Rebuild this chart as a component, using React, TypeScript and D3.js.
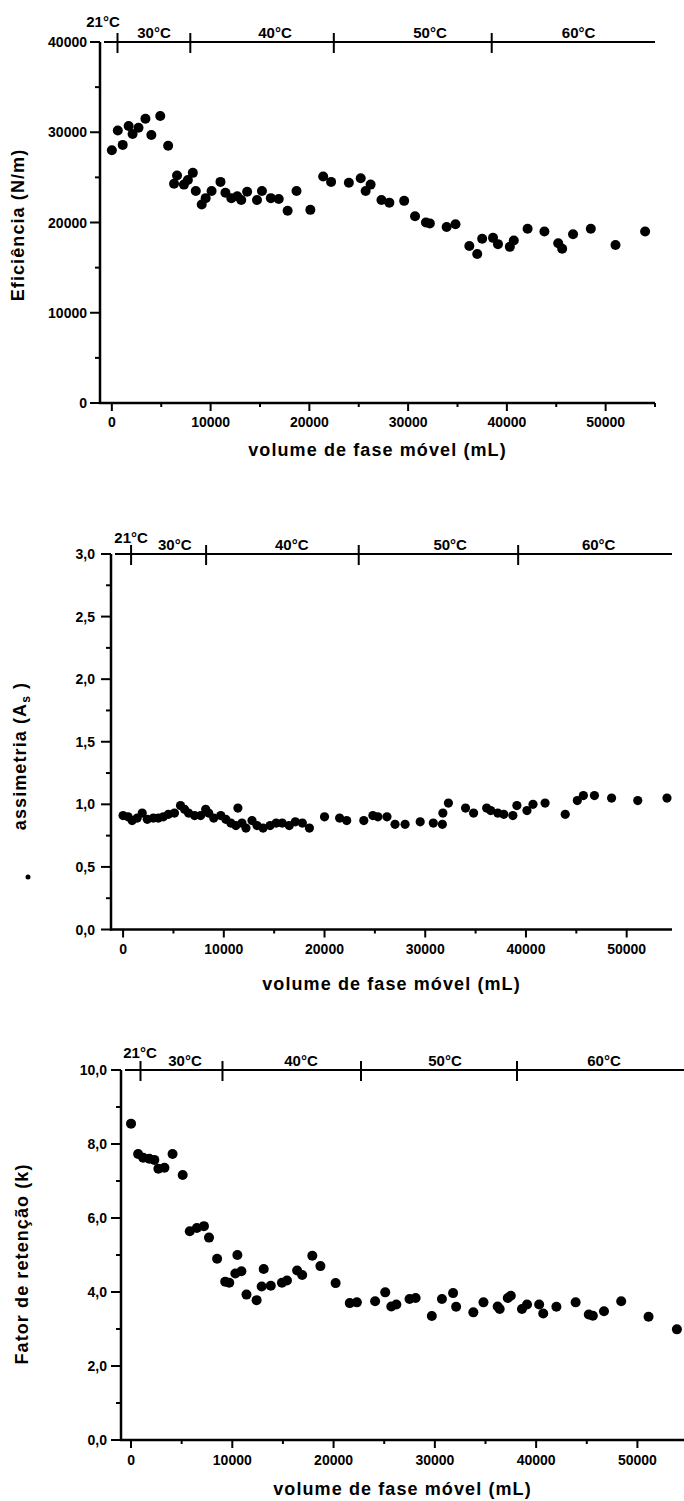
import React from "react";
import * as d3 from "d3";

const FONT = "'Liberation Sans', Arial, Helvetica, sans-serif";

// ---------- Panel 1: Eficiência (N/m) ----------
const effVolume = [0, 600, 1100, 1700, 2100, 2700, 3400, 4000, 4900, 5700, 6300, 6600, 7300, 7700, 8200, 8500, 9100, 9500, 10100, 11000, 11500, 12100, 12700, 13100, 13700, 14700, 15200, 16100, 16900, 17800, 18700, 20100, 21400, 22200, 24000, 25200, 25700, 26200, 27300, 28100, 29600, 30700, 31800, 32200, 33900, 34800, 36200, 37000, 37500, 38600, 39100, 40300, 40700, 42100, 43800, 45200, 45600, 46700, 48500, 51000, 54000];
const effValue = [28000, 30200, 28600, 30700, 29800, 30500, 31500, 29700, 31800, 28500, 24300, 25200, 24200, 24700, 25500, 23500, 22000, 22700, 23500, 24500, 23300, 22700, 22900, 22500, 23400, 22500, 23500, 22700, 22600, 21300, 23500, 21400, 25100, 24500, 24400, 24900, 23500, 24200, 22500, 22200, 22400, 20700, 20000, 19900, 19500, 19800, 17400, 16500, 18200, 18300, 17600, 17300, 18000, 19300, 19000, 17700, 17100, 18700, 19300, 17500, 19000];

// ---------- Panel 2: assimetria (As) ----------
const asymVolume = [0, 500, 900, 1400, 1900, 2400, 3000, 3500, 4000, 4500, 5100, 5700, 6100, 6500, 7100, 7700, 8200, 8500, 9000, 9700, 10200, 10700, 11200, 11400, 11800, 12200, 12800, 13300, 13900, 14600, 15200, 15800, 16500, 17100, 17800, 18500, 20000, 21500, 22200, 23900, 24800, 25300, 26200, 27000, 28000, 29500, 30800, 31700, 31750, 32300, 34000, 34800, 36100, 36500, 37200, 37800, 38700, 39100, 40100, 40700, 41900, 43900, 45100, 45700, 46800, 48500, 51100, 54000];
const asymValue = [0.91, 0.90, 0.87, 0.89, 0.93, 0.88, 0.89, 0.89, 0.90, 0.92, 0.93, 0.99, 0.96, 0.93, 0.91, 0.91, 0.96, 0.93, 0.89, 0.91, 0.88, 0.85, 0.83, 0.97, 0.85, 0.81, 0.87, 0.83, 0.81, 0.83, 0.85, 0.85, 0.83, 0.86, 0.85, 0.81, 0.90, 0.89, 0.87, 0.87, 0.91, 0.90, 0.90, 0.84, 0.84, 0.86, 0.85, 0.84, 0.93, 1.01, 0.97, 0.93, 0.97, 0.95, 0.93, 0.92, 0.91, 0.99, 0.95, 1.00, 1.01, 0.92, 1.03, 1.07, 1.07, 1.05, 1.03, 1.05];

// ---------- Panel 3: Fator de retenção (k) ----------
const retVolume = [0, 700, 1200, 1800, 2300, 2700, 3300, 4100, 5100, 5800, 6500, 7200, 7700, 8500, 9300, 9700, 10300, 10500, 10900, 11400, 12400, 12900, 13100, 13800, 14900, 15400, 16400, 16900, 17900, 18700, 20200, 21600, 22300, 24100, 25100, 25700, 26200, 27500, 28100, 29700, 30700, 31800, 32100, 33800, 34800, 36200, 36400, 37200, 37500, 38600, 39100, 40300, 40700, 42000, 43900, 45200, 45600, 46700, 48400, 51100, 53900];
const retValue = [8.55, 7.73, 7.63, 7.60, 7.57, 7.33, 7.36, 7.73, 7.16, 5.64, 5.73, 5.78, 5.47, 4.90, 4.28, 4.25, 4.50, 5.00, 4.56, 3.93, 3.78, 4.15, 4.62, 4.17, 4.25, 4.31, 4.58, 4.46, 4.98, 4.70, 4.24, 3.70, 3.72, 3.75, 3.99, 3.61, 3.66, 3.81, 3.84, 3.35, 3.81, 3.97, 3.60, 3.45, 3.72, 3.61, 3.54, 3.84, 3.90, 3.54, 3.66, 3.66, 3.42, 3.60, 3.72, 3.39, 3.36, 3.48, 3.75, 3.33, 2.99];

// ---------- Axes / annotations ----------
const xTicks = [0, 10000, 20000, 30000, 40000, 50000];
const effYTicks = [0, 10000, 20000, 30000, 40000];
const asymYTicks = [0, 0.5, 1.0, 1.5, 2.0, 2.5, 3.0];
const retYTicks = [0, 2, 4, 6, 8, 10];
const tempLabels = ["21°C", "30°C", "40°C", "50°C", "60°C"];
const effTempBounds = [572, 7944, 22476, 38466];
const effTempLabelPos = [-896, 4268, 16522, 32218, 47266];
const asymTempBounds = [794, 8242, 23396, 39226];
const asymTempLabelPos = [794, 5134, 16743, 32473, 47220];
const retTempBounds = [935, 9031, 22707, 38110];
const retTempLabelPos = [886, 5329, 16783, 31001, 46700];
const xTitle = "volume de fase móvel (mL)";

const fmtInt = (d: number) => d3.format("d")(d);
const fmtComma = (d: number) => d.toFixed(1).replace(".", ",");

type Cfg = {
  left: number; right: number; top: number; bottom: number;
  xDomain: [number, number]; yDomain: [number, number];
  yTicks: number[]; yMinorStep: number; fmt: (d: number) => string;
  labelGap: number; yTitle: React.ReactNode; yTitleX: number; yTitleY: number;
  xs: number[]; ys: number[]; r: number;
  tempBounds: number[]; tempLabelPos: number[];
  firstLabelDy: number; otherLabelDy: number;
  xLabelDy: number; xTitleDy: number;
};

function Panel({ c }: { c: Cfg }) {
  const x = d3.scaleLinear().domain(c.xDomain).range([c.left, c.right]);
  const y = d3.scaleLinear().domain(c.yDomain).range([c.bottom, c.top]);
  const xMinor = d3.range(5000, c.xDomain[1] + 1, 10000);
  const yMinor = d3.range(c.yDomain[0] + c.yMinorStep, c.yDomain[1], c.yMinorStep * 2);
  const midX = (c.left + c.right) / 2;
  return (
    <g>
      {/* top temperature line */}
      <line x1={c.left + 4} x2={c.right} y1={c.top} y2={c.top} stroke="#000" strokeWidth={2} />
      {c.tempBounds.map((b, i) => (
        <line key={"tb" + i} x1={x(b)} x2={x(b)} y1={c.top - 9} y2={c.top + 11} stroke="#000" strokeWidth={2} />
      ))}
      {c.tempLabelPos.map((p, i) => (
        <text key={"tl" + i} x={x(p)} y={c.top + (i === 0 ? c.firstLabelDy : c.otherLabelDy)}
          textAnchor="middle" fontFamily={FONT} fontWeight="bold" fontSize={15}>{tempLabels[i]}</text>
      ))}
      {/* y axis */}
      <line x1={c.left} x2={c.left} y1={c.top} y2={c.bottom + 1} stroke="#000" strokeWidth={2.5} />
      {c.yTicks.map((t) => (
        <g key={"yt" + t}>
          <line x1={c.left - 10} x2={c.left} y1={y(t)} y2={y(t)} stroke="#000" strokeWidth={2} />
          <text x={c.left - c.labelGap} y={y(t)} dy="0.36em" textAnchor="end" fontFamily={FONT} fontWeight="bold" fontSize={14}>{c.fmt(t)}</text>
        </g>
      ))}
      {yMinor.map((t) => (
        <line key={"ym" + t} x1={c.left - 5} x2={c.left} y1={y(t)} y2={y(t)} stroke="#000" strokeWidth={2} />
      ))}
      {/* x axis */}
      <line x1={c.left - 1} x2={c.right} y1={c.bottom} y2={c.bottom} stroke="#000" strokeWidth={2.5} />
      {xTicks.map((t) => (
        <g key={"xt" + t}>
          <line x1={x(t)} x2={x(t)} y1={c.bottom} y2={c.bottom + 8} stroke="#000" strokeWidth={2} />
          <text x={x(t)} y={c.bottom + c.xLabelDy} textAnchor="middle" fontFamily={FONT} fontWeight="bold" fontSize={14}>{fmtInt(t)}</text>
        </g>
      ))}
      {xMinor.map((t) => (
        <line key={"xm" + t} x1={x(t)} x2={x(t)} y1={c.bottom} y2={c.bottom + 4} stroke="#000" strokeWidth={2} />
      ))}
      <text x={midX} y={c.bottom + c.xTitleDy} textAnchor="middle" fontFamily={FONT} fontWeight="bold" fontSize={18} letterSpacing={1.1}>{xTitle}</text>
      <text transform={`translate(${c.yTitleX},${c.yTitleY}) rotate(-90)`} textAnchor="middle" fontFamily={FONT} fontWeight="bold" fontSize={18} letterSpacing={1.1}>{c.yTitle}</text>
      {/* points */}
      {c.xs.map((v, i) => (
        <circle key={"p" + i} cx={x(v)} cy={y(c.ys[i])} r={c.r} fill="#000" />
      ))}
    </g>
  );
}

const panels: Cfg[] = [
  {
    left: 100, right: 655, top: 42, bottom: 403,
    xDomain: [-1200, 55000], yDomain: [0, 40000],
    yTicks: effYTicks, yMinorStep: 5000, fmt: fmtInt, labelGap: 13,
    yTitle: "Eficiência (N/m)", yTitleX: 24, yTitleY: 225,
    xs: effVolume, ys: effValue, r: 5,
    tempBounds: effTempBounds, tempLabelPos: effTempLabelPos,
    firstLabelDy: -15, otherLabelDy: -4, xLabelDy: 24, xTitleDy: 53,
  },
  {
    left: 111, right: 672, top: 554, bottom: 929.5,
    xDomain: [-1200, 54500], yDomain: [0, 3],
    yTicks: asymYTicks, yMinorStep: 0.25, fmt: fmtComma, labelGap: 16,
    yTitle: (<>assimetria (A<tspan fontSize={12} dy={4}>s</tspan><tspan dy={-4}> )</tspan></>),
    yTitleX: 26, yTitleY: 756,
    xs: asymVolume, ys: asymValue, r: 4.6,
    tempBounds: asymTempBounds, tempLabelPos: asymTempLabelPos,
    firstLabelDy: -11, otherLabelDy: -4, xLabelDy: 24, xTitleDy: 60,
  },
  {
    left: 121, right: 684, top: 1070, bottom: 1440,
    xDomain: [-990, 54600], yDomain: [0, 10],
    yTicks: retYTicks, yMinorStep: 1, fmt: fmtComma, labelGap: 14,
    yTitle: "Fator de retenção (k)", yTitleX: 28, yTitleY: 1264,
    xs: retVolume, ys: retValue, r: 5,
    tempBounds: retTempBounds, tempLabelPos: retTempLabelPos,
    firstLabelDy: -12, otherLabelDy: -4, xLabelDy: 25, xTitleDy: 55,
  },
];

export default function App() {
  return (
    <svg width={684} height={1501} style={{ position: "absolute", left: 0, top: 0, background: "#fff" }}>
      <rect width={684} height={1501} fill="#fff" />
      {panels.map((c, i) => <Panel key={i} c={c} />)}
      <circle cx={28} cy={877} r={2.5} fill="#000" />
    </svg>
  );
}
